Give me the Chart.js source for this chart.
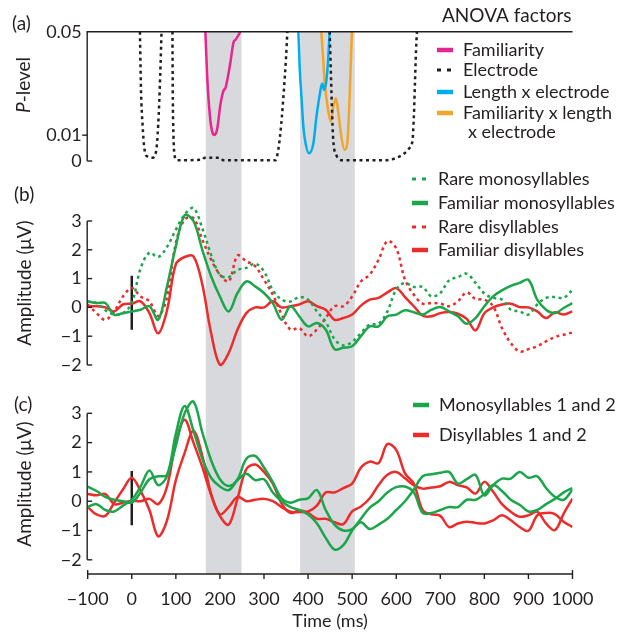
<!DOCTYPE html>
<html>
<head>
<meta charset="utf-8">
<script src="https://cdn.jsdelivr.net/npm/chart.js@4.4.1/dist/chart.umd.min.js"></script>
<style>
  html, body { margin: 0; padding: 0; background: #fff; }
  #wrap { position: relative; width: 633px; height: 632px; }
</style>
</head>
<body>
<div id="wrap"><canvas id="chart" width="633" height="632"></canvas></div>
<script>
// time grid (ms) for the ERP waveforms
const times = [-100, -80, -60, -40, -20, 0, 20, 40, 60, 80, 100, 120, 140, 160, 180, 200, 220, 240, 260, 280,
  300, 320, 340, 360, 380, 400, 420, 440, 460, 480, 500, 520, 540, 560, 580, 600, 620, 640, 660, 680,
  700, 720, 740, 760, 780, 800, 820, 840, 860, 880, 900, 920, 940, 960, 980, 1000];

// (a) ANOVA p-levels, only where p < 0.05
const famT = [167, 171, 177, 183, 188, 194, 201, 209, 212, 216, 224, 231, 236, 243, 246];
const famP = [0.05, 0.033, 0.018, 0.011, 0.0101, 0.0126, 0.0217, 0.0275, 0.028, 0.0307, 0.0384, 0.046, 0.047, 0.049, 0.05];
const elecT = [18.5, 19.5, 21, 24.5, 28.5, 36, 47, 55, 60, 64.5, 67.5, 80, 92.3, 93, 94.6, 97.6, 103.6, 160, 165, 200,
  208, 326, 333, 339, 345, 350, 353, 400, 449, 453, 456.5, 464, 479, 576, 600, 621, 630, 637, 640, 642.5, 645, 647];
const elecP = [0.05, 0.04, 0.027, 0.014, 0.005, 0.0017, 0.0013, 0.0036, 0.014, 0.033, 0.05, null, 0.05, 0.027, 0.01, 0.0017, 0.0003, 0.0005, 0.0013, 0.0013,
  0.0003, 0.0003, 0.005, 0.014, 0.027, 0.04, 0.05, null, 0.05, 0.027, 0.01, 0.0023, 0.0003, 0.0003, 0.0012, 0.0033, 0.005, 0.008, 0.017, 0.03, 0.043, 0.05];
const lenT = [378, 381, 385.5, 389, 393, 402, 412, 419, 427, 432, 436.5, 441.5, 445.5, 449];
const lenP = [0.05, 0.036, 0.0236, 0.014, 0.0081, 0.003, 0.0068, 0.0171, 0.0262, 0.030, 0.0275, 0.031, 0.039, 0.05];
const triT = [430, 434, 438, 445.5, 451.5, 457, 463, 468, 475.5, 483, 489, 494, 498, 499.5];
const triP = [0.05, 0.04, 0.030, 0.0197, 0.0152, 0.021, 0.0242, 0.0197, 0.0094, 0.0043, 0.0068, 0.0236, 0.043, 0.05];

// (b) amplitudes (µV)
const rareMono = [0.2, 0.15, -0.1, -0.25, -0.2, 0.15, 1.35, 1.9, 1.75, 2.1, 2.7, 3.22, 3.45, 2.75, 1.83, 1.13, 1.05, 1.3, 1.37, 1.52,
  1.25, 0.6, 0.27, 0.2, 0.36, 0.27, -0.14, -0.5, -1.1, -1.32, -1.2, -0.89, -0.6, -0.57, -0.14, 0.62, 0.85, 0.71, 0.71, 0.38,
  0.5, 0.94, 1.05, 1.17, 0.85, 0.48, 0.33, 0.27, -0.08, -0.14, -0.25, 0.1, 0.33, 0.36, 0.33, 0.62];
const famMono = [0.21, 0.15, 0.15, -0.25, -0.2, -0.14, -0.08, 0.04, -0.43, 0.73, 2.12, 3.2, 3.0, 2.0, 1.08, 0.38, -0.14, 0.5, 0.9, 0.73,
  0.5, 0.15, -0.43, 0.04, -0.31, -0.66, -0.54, -0.77, -1.45, -1.4, -1.35, -1.0, -0.66, -0.66, -0.31, -0.25, -0.1, -0.17, -0.25, -0.08,
  0.01, -0.14, -0.31, -0.57, -0.37, 0.04, 0.38, 0.59, 0.75, 0.85, 0.96, 0.27, -0.08, -0.2, -0.02, 0.15];
const rareDi = [0.1, -0.2, -0.43, -0.14, 0.38, 0.67, 0.38, 0.21, -0.3, 0.35, 2.24, 3.05, 3.1, 2.35, 1.66, 1.14, 0.9, 1.8, 1.6, 1.43,
  0.96, 0.44, -0.25, -0.77, -0.72, -1.0, -0.77, -0.37, 0.04, 0.04, 0.38, 0.9, 1.14, 1.66, 2.3, 2.05, 0.96, 0.44, 0.13, 0.15,
  0.13, 0.04, 0.21, 0.52, 0.29, 0.27, 0.04, -0.72, -1.24, -1.53, -1.45, -1.35, -1.18, -1.03, -0.95, -0.87];
const famDi = [0.04, 0.04, 0, -0.14, 0.1, 0.13, 0.21, -0.2, -0.9, -0.1, 1.5, 1.75, 1.77, 0.8, -0.89, -1.99, -1.58, -0.77, -0.2, 0,
  0, 0.21, 0, 0.04, 0.1, 0.21, 0.04, -0.08, -0.43, -0.37, -0.25, 0.06, 0.27, 0.33, 0.52, 0.67, 0.36, 0.04, -0.29, -0.31,
  -0.2, -0.16, -0.22, -0.4, -0.8, -0.2, 0, 0.1, 0.13, 0.01, 0, -0.14, -0.37, -0.17, -0.25, -0.14];

// (c) amplitudes (µV)
const mono1 = [0.5, 0.35, 0.15, 0.05, 0.0, -0.05, 0.3, 0.75, 0.85, 0.9, 2.3, 3.25, 2.4, 1.45, 0.8, 0.5, 0.38, 0.72, 0.94, 0.72,
  0.75, 0.3, 0.0, -0.2, -0.3, -0.45, -0.75, -1.25, -1.65, -1.5, -1.0, -0.6, -0.22, 0.0, 0.3, 0.48, 0.5, 0.3, -0.4, -0.4,
  -0.3, -0.2, -0.2, 0.05, 0.05, 0.25, 0.55, 0.35, 0.05, -0.12, -0.35, -0.3, -0.1, 0.08, 0.3, 0.45];
const mono2 = [-0.2, -0.1, -0.3, -0.35, -0.15, 0.05, 0.5, 1.05, 0.55, 0.85, 1.9, 3.0, 3.4, 2.35, 1.4, 0.75, 0.52, 0.75, 1.45, 1.55,
  1.15, 0.65, 0.1, -0.05, 0.05, 0.1, 0.38, -0.3, -0.8, -1.0, -0.95, -0.72, -0.95, -0.8, -0.6, -0.3, 0.0, 0.4, 0.85, 0.92,
  0.97, 1.0, 0.6, 0.75, 0.9, 0.2, 0.55, 0.77, 0.77, 1.0, 0.8, 0.85, 0.45, 0.15, 0.05, 0.4];
const di1 = [0.25, 0.2, 0.25, -0.1, -0.05, 0.02, 0.0, 0.08, -0.1, 0.5, 2.0, 2.78, 2.0, 1.17, 0.22, -0.45, -0.2, 0.15, 0.0, 0.05,
  0.08, 0.0, -0.2, -0.36, -0.37, -0.35, -0.15, 0.3, 0.3, 0.45, 0.6, 1.15, 1.35, 1.3, 1.95, 1.75, 0.95, 0.6, -0.3, -0.45,
  -0.5, -0.88, -0.76, -0.7, -0.74, -0.76, -0.65, -0.48, -0.65, -0.88, -1.01, -0.48, -0.4, -0.44, -0.7, -0.88];
const di2 = [-0.2, -0.45, -0.5, -0.05, 0.4, 0.8, 0.35, -0.3, -1.2, -0.65, 0.72, 1.65, 2.4, 1.55, 0.25, -0.5, -0.8, 0.1, 1.1, 1.25,
  1.0, 0.6, -0.08, -0.4, -0.32, -0.4, -0.6, -0.6, -0.72, -0.78, -0.35, -0.18, 0.1, 0.55, 0.9, 1.0, 0.78, 0.55, 0.43, 0.47,
  0.51, 0.66, 0.55, 0.47, 0.26, 0.66, 0.32, -0.1, -0.36, -0.53, -0.48, -0.36, -0.76, -0.99, -0.42, 0.09];

// stimulus onset marker (µV extent of the black bar at 0 ms)
const onsetB = [1.1, -0.78];
const onsetC = [1.03, -0.82];

// shaded analysis windows (ms)
const bands = [[168, 249], [382, 506]];

const xTicks = [-100, 0, 100, 200, 300, 400, 500, 600, 700, 800, 900, 1000];
const pTicks = [0, 0.01, 0.05];
const ampTicks = [-2, -1, 0, 1, 2, 3];

const FONT = "Lato, 'Open Sans', sans-serif";
const INK = '#231f20';
const GREEN = '#1ba64b';
const RED = '#ec2b2b';
const PINK = '#e8248e';
const CYAN = '#00aeef';
const ORANGE = '#f2a42c';
const BAND = '#d7d9dc';
const DOTS = [3, 3.5];

const xy = (xs, ys) => xs.map((x, i) => ({x: x, y: ys[i]}));
const minus = v => (v < 0 ? '\u2212' + Math.abs(v) : String(v));

function pLine(label, t, p, color, dash) {
  return {label: label, data: xy(t, p), yAxisID: 'ya', borderColor: color, borderWidth: 2.5,
    borderDash: dash || [], cubicInterpolationMode: 'monotone'};
}
function erp(label, vals, color, dash, axis) {
  return {label: label, data: xy(times, vals), yAxisID: axis, borderColor: color, borderWidth: 2.5,
    borderDash: dash || [], tension: 0.35};
}
function onset(vals, axis) {
  return {label: 'onset', data: xy([0, 0], vals), yAxisID: axis, borderColor: INK, borderWidth: 2.5, tension: 0};
}

const datasets = [
  pLine('Familiarity', famT, famP, PINK),
  pLine('Electrode', elecT, elecP, INK, DOTS),
  pLine('Length x electrode', lenT, lenP, CYAN),
  pLine('Familiarity x length x electrode', triT, triP, ORANGE),
  erp('Rare monosyllables', rareMono, GREEN, DOTS, 'yb'),
  erp('Familiar monosyllables', famMono, GREEN, null, 'yb'),
  erp('Rare disyllables', rareDi, RED, DOTS, 'yb'),
  erp('Familiar disyllables', famDi, RED, null, 'yb'),
  onset(onsetB, 'yb'),
  erp('Monosyllables 1', mono1, GREEN, null, 'yc'),
  erp('Monosyllables 2', mono2, GREEN, null, 'yc'),
  erp('Disyllables 1', di1, RED, null, 'yc'),
  erp('Disyllables 2', di2, RED, null, 'yc'),
  onset(onsetC, 'yc')
];

const legends = [
  {x: 437, ys: [50, 70, 92, 113], items: [
    {text: 'Familiarity', color: PINK}, {text: 'Electrode', color: INK, dash: true},
    {text: 'Length x electrode', color: CYAN}, {text: 'Familiarity x length', color: ORANGE, more: 'x electrode'}]},
  {x: 412, ys: [179, 203, 227, 250], items: [
    {text: 'Rare monosyllables', color: GREEN, dash: true}, {text: 'Familiar monosyllables', color: GREEN},
    {text: 'Rare disyllables', color: RED, dash: true}, {text: 'Familiar disyllables', color: RED}]},
  {x: 413, ys: [405, 435], items: [
    {text: 'Monosyllables 1 and 2', color: GREEN}, {text: 'Disyllables 1 and 2', color: RED}]}
];

const tickFont = {family: FONT, size: 18};

const decor = {
  id: 'decor',
  beforeDatasetsDraw(chart) {
    const {ctx, chartArea: a, scales: {x}} = chart;
    ctx.save();
    ctx.fillStyle = BAND;
    bands.forEach(([t0, t1]) => {
      const x0 = x.getPixelForValue(t0), x1 = x.getPixelForValue(t1);
      ctx.fillRect(x0, a.top, x1 - x0, a.bottom - a.top);
    });
    ctx.restore();
  },
  afterDraw(chart) {
    const {ctx, chartArea: a, scales: {x, ya, yb, yc}} = chart;
    ctx.save();
    ctx.strokeStyle = INK;
    ctx.lineWidth = 1.4;
    ctx.setLineDash([]);
    const line = (x0, y0, x1, y1) => { ctx.beginPath(); ctx.moveTo(x0, y0); ctx.lineTo(x1, y1); ctx.stroke(); };
    const ax = a.left - 0.5;

    // (a) axis: top border at p = 0.05 and left axis down to 0
    const pTop = ya.getPixelForValue(0.05);
    line(ax - 0.7, pTop, x.getPixelForValue(1000), pTop);
    line(ax, pTop, ax, ya.getPixelForValue(0));
    line(ax - 5, ya.getPixelForValue(0.01), ax, ya.getPixelForValue(0.01));
    line(ax, ya.getPixelForValue(0), ax + 5, ya.getPixelForValue(0));

    // (b), (c) amplitude axes, ticks pointing inwards
    [yb, yc].forEach(s => {
      line(ax, s.getPixelForValue(3), ax, s.getPixelForValue(-2));
      ampTicks.forEach(v => { const y = s.getPixelForValue(v); line(ax, y, ax + 5, y); });
    });

    // time axis
    const yx = a.bottom;
    line(x.getPixelForValue(-100), yx, x.getPixelForValue(1000), yx);
    xTicks.forEach(t => { const px = x.getPixelForValue(t); line(px, yx, px, yx + 5); });
    line(x.getPixelForValue(-100), yx, x.getPixelForValue(-100), yx - 4);
    line(x.getPixelForValue(1000), yx, x.getPixelForValue(1000), yx - 4);

    // texts
    ctx.fillStyle = INK;
    ctx.textBaseline = 'middle';
    ctx.textAlign = 'left';
    ctx.font = `19px ${FONT}`;
    ctx.fillText('(a)', 12, 24);
    ctx.fillText('(b)', 14, 195);
    ctx.fillText('(c)', 14, 405);
    ctx.fillText('ANOVA factors', 442, 16);

    const vtext = (parts, cx, cy) => {
      ctx.save();
      ctx.translate(cx, cy);
      ctx.rotate(-Math.PI / 2);
      let w = 0;
      parts.forEach(p => { ctx.font = `${p[1] ? 'italic ' : ''}19px ${FONT}`; w += ctx.measureText(p[0]).width; });
      let px = -w / 2;
      parts.forEach(p => { ctx.font = `${p[1] ? 'italic ' : ''}19px ${FONT}`; ctx.fillText(p[0], px, 0); px += ctx.measureText(p[0]).width; });
      ctx.restore();
    };
    vtext([['P', true], ['-level', false]], 24, 85);
    vtext([['Amplitude (\u03bcV)', false]], 25, 283);
    vtext([['Amplitude (\u03bcV)', false]], 25, 484);

    // legends
    legends.forEach(g => {
      g.items.forEach((it, i) => {
        const y = g.ys[i];
        ctx.strokeStyle = it.color;
        if (it.dash) { ctx.lineWidth = 3; ctx.setLineDash([4, 6]); } else { ctx.lineWidth = 4.5; ctx.setLineDash([]); }
        line(g.x, y, g.x + 16, y);
        ctx.setLineDash([]);
        ctx.font = `18px ${FONT}`;
        ctx.fillText(it.text, g.x + 26, y);
        if (it.more) ctx.fillText(it.more, g.x + 31, y + 19);
      });
    });
    ctx.restore();
  }
};

new Chart(document.getElementById('chart').getContext('2d'), {
  type: 'line',
  data: {datasets: datasets},
  options: {
    responsive: false,
    animation: false,
    devicePixelRatio: 1,
    layout: {padding: {top: 31.7, right: 60.5, bottom: 0, left: 0}},
    elements: {point: {radius: 0}},
    plugins: {legend: {display: false}, tooltip: {enabled: false}},
    scales: {
      x: {
        type: 'linear', position: 'bottom', min: -100, max: 1000,
        afterFit: s => { s.height = 58; },
        border: {display: false},
        grid: {display: false, drawTicks: false},
        ticks: {stepSize: 100, autoSkip: false, maxRotation: 0, padding: 14, color: INK, font: tickFont, callback: v => minus(v)},
        title: {display: true, text: 'Time (ms)', color: INK, font: {family: FONT, size: 18}, padding: {top: 0, bottom: 0}}
      },
      ya: {
        type: 'linear', position: 'left', stack: 'panels', stackWeight: 158.3, weight: 3,
        min: -0.01121, max: 0.05,
        afterFit: s => { s.width = 87.7; },
        afterBuildTicks: s => { s.ticks = pTicks.map(v => ({value: v})); },
        border: {display: false},
        grid: {display: false, drawTicks: false},
        ticks: {autoSkip: false, padding: 6, color: INK, font: tickFont, callback: v => String(v)}
      },
      yb: {
        type: 'linear', position: 'left', stack: 'panels', stackWeight: 198, weight: 2,
        min: -2.799, max: 4.076,
        afterFit: s => { s.width = 87.7; },
        afterBuildTicks: s => { s.ticks = ampTicks.map(v => ({value: v})); },
        border: {display: false},
        grid: {display: false, drawTicks: false},
        ticks: {autoSkip: false, padding: 6, color: INK, font: tickFont, callback: v => minus(v)}
      },
      yc: {
        type: 'linear', position: 'left', stack: 'panels', stackWeight: 186, weight: 1,
        min: -2.484, max: 3.864,
        afterFit: s => { s.width = 87.7; },
        afterBuildTicks: s => { s.ticks = ampTicks.map(v => ({value: v})); },
        border: {display: false},
        grid: {display: false, drawTicks: false},
        ticks: {autoSkip: false, padding: 6, color: INK, font: tickFont, callback: v => minus(v)}
      }
    }
  },
  plugins: [decor]
});
</script>
</body>
</html>
